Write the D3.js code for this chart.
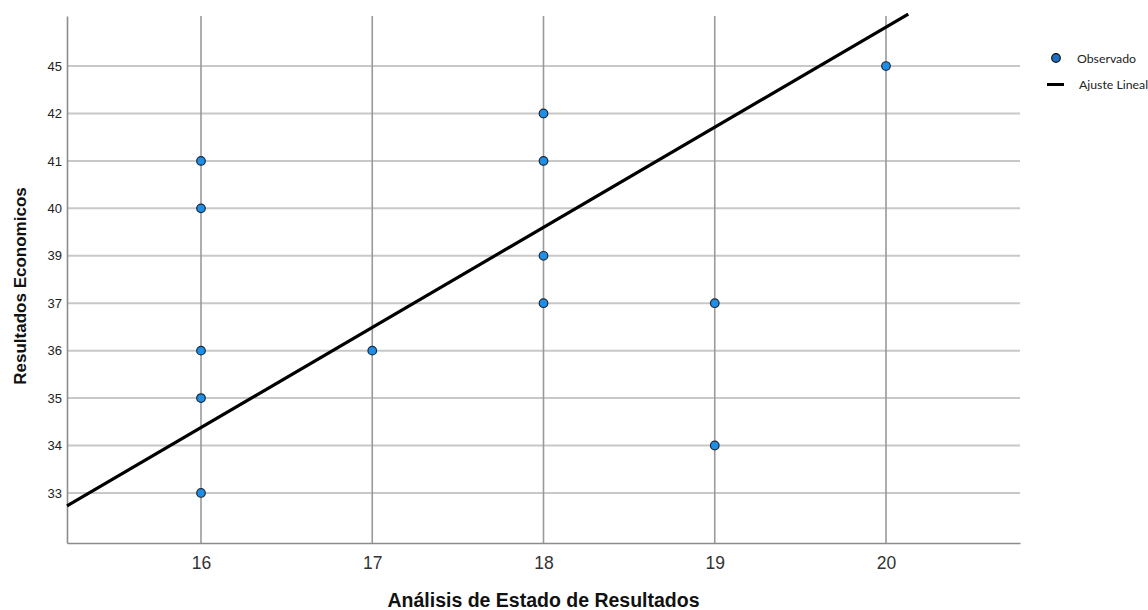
<!DOCTYPE html>
<html>
<head>
<meta charset="utf-8">
<script src="https://cdn.jsdelivr.net/npm/d3@7"></script>
<style>
  html, body { margin: 0; padding: 0; background: #fff; }
  svg { display: block; }
</style>
</head>
<body>
<svg id="chart" width="1148" height="610"></svg>
<script>
// ---- data ----
const yCategories = [33, 34, 35, 36, 37, 39, 40, 41, 42, 45];
const xTicks = [16, 17, 18, 19, 20];
const obsX = [16, 16, 16, 16, 16, 17, 18, 18, 18, 18, 19, 19, 20];
const obsY = [41, 40, 36, 35, 33, 36, 42, 41, 39, 37, 37, 34, 45];
// fitted line endpoints: x in data units, y in category-position units (0 = first category)
const fitX = [15.2175, 20.13];
const fitYpos = [-0.274, 10.097];
const legendLabels = ["Observado", "Ajuste Lineal"];
const xTitle = "Análisis de Estado de Resultados";
const yTitle = "Resultados Economicos";

// ---- layout ----
const svg = d3.select("#chart");
const pLeft = 67, pRight = 1020, pTop = 16, pBottom = 543;

const x = d3.scaleLinear().domain([15.2175, 20.7825]).range([pLeft, pRight]);
const y = d3.scalePoint().domain(yCategories).range([pBottom, pTop]).padding(1.055);
const yPos = d3.scaleLinear().domain([0, yCategories.length - 1])
  .range([y(yCategories[0]), y(yCategories[yCategories.length - 1])]);

// horizontal gridlines
svg.append("g").selectAll("line").data(yCategories).join("line")
  .attr("x1", pLeft).attr("x2", pRight)
  .attr("y1", d => y(d)).attr("y2", d => y(d))
  .attr("stroke", "#c8c8c8").attr("stroke-width", 2);

// vertical gridlines
svg.append("g").selectAll("line").data(xTicks).join("line")
  .attr("x1", d => x(d)).attr("x2", d => x(d))
  .attr("y1", pTop).attr("y2", pBottom)
  .attr("stroke", "#9a9a9a").attr("stroke-width", 1.6);

// axes
const xAxis = d3.axisBottom(x).tickValues(xTicks).tickSize(0).tickPadding(14).tickFormat(d3.format("d"));
const gx = svg.append("g").attr("transform", `translate(0,${pBottom})`).call(xAxis);
gx.select(".domain").attr("stroke", "#8c8c8c").attr("stroke-width", 1.6);
gx.selectAll("text").attr("font-family", "Liberation Sans, Arial, sans-serif")
  .attr("font-size", 17.5).attr("fill", "#333");

const yAxis = d3.axisLeft(y).tickSize(0).tickPadding(5);
const gy = svg.append("g").attr("transform", `translate(${pLeft},0)`).call(yAxis);
gy.select(".domain").attr("stroke", "#8c8c8c").attr("stroke-width", 1.6);
gy.selectAll("text").attr("font-family", "Liberation Sans, Arial, sans-serif")
  .attr("font-size", 13).attr("fill", "#222");

// fit line
const line = d3.line().x(d => x(d[0])).y(d => yPos(d[1]));
svg.append("path")
  .datum(fitX.map((v, i) => [v, fitYpos[i]]))
  .attr("d", line)
  .attr("fill", "none").attr("stroke", "#000").attr("stroke-width", 3.2);

// points
svg.append("g").selectAll("circle").data(obsX.map((v, i) => [v, obsY[i]])).join("circle")
  .attr("cx", d => x(d[0])).attr("cy", d => y(d[1]))
  .attr("r", 4.3)
  .attr("fill", "#1f8ee6").attr("stroke", "#1b2a3a").attr("stroke-width", 1.2);

// axis titles
svg.append("text")
  .attr("x", (pLeft + pRight) / 2).attr("y", 607)
  .attr("text-anchor", "middle")
  .attr("font-family", "Liberation Sans, Arial, sans-serif")
  .attr("font-weight", "bold").attr("font-size", 19.5).attr("fill", "#111")
  .text(xTitle);

svg.append("text")
  .attr("transform", `translate(26,286) rotate(-90)`)
  .attr("text-anchor", "middle")
  .attr("font-family", "Liberation Sans, Arial, sans-serif")
  .attr("font-weight", "bold").attr("font-size", 17).attr("fill", "#111")
  .text(yTitle);

// legend
const lg = svg.append("g");
lg.append("circle").attr("cx", 1056).attr("cy", 58).attr("r", 4.3)
  .attr("fill", "#1f6fc0").attr("stroke", "#111").attr("stroke-width", 1.2);
lg.append("text").attr("x", 1077).attr("y", 63)
  .attr("font-family", "Lato, Open Sans, sans-serif").attr("font-size", 12.3).attr("fill", "#222")
  .text(legendLabels[0]);
lg.append("line").attr("x1", 1047).attr("x2", 1064).attr("y1", 84.5).attr("y2", 84.5)
  .attr("stroke", "#000").attr("stroke-width", 3);
lg.append("text").attr("x", 1079).attr("y", 89)
  .attr("font-family", "Lato, Open Sans, sans-serif").attr("font-size", 12.3).attr("fill", "#222")
  .text(legendLabels[1]);
</script>
</body>
</html>
